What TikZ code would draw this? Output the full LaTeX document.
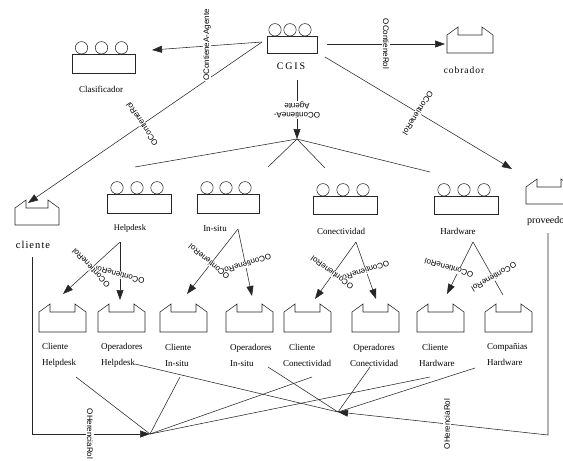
\documentclass[tikz,border=0pt]{standalone}
\usepackage{fontspec}
\setmainfont{Liberation Serif}
\newfontfamily\lblsans{Liberation Sans}
\newfontfamily\wideserif[LetterSpace=10]{Liberation Serif}
\newfontfamily\capsserif[LetterSpace=18]{Liberation Serif}
\usetikzlibrary{arrows.meta,calc}

\tikzset{
  shapeline/.style={line width=0.55pt, draw=black!85},
  conn/.style={line width=0.55pt, draw=black!85},
  arr/.style={conn, -{Triangle[length=10pt,width=7pt]}},
  tag/.style={font=\lblsans\fontsize{8}{9}\selectfont, fill=white, inner sep=0.6pt},
  lbl/.style={font=\fontsize{9}{16}\selectfont, inner sep=0pt},
  % agent: rectangle with three circles on top (origin = top centre)
  pics/agent/.style n args={3}{code={
    \draw[shapeline] (-#1/2,0) rectangle (#1/2,#2);
    \foreach \k in {-1,0,1} \draw[shapeline] (\k*#3-2,-6.2) circle[radius=6.2];
  }},
  % role: box with two ears on top (origin = bottom left)
  pics/rolebox/.style n args={2}{code={
    \draw[shapeline] (0,0) -- (0,-#2) -- (11,-#2-8) -- (11,-#2) -- (#1-11,-#2)
      -- (#1-11,-#2-8) -- (#1,-#2) -- (#1,0) -- cycle;
  }},
}

\begin{document}
\begin{tikzpicture}[x=1pt,y=-1pt]
\useasboundingbox (0,0) rectangle (563,461);
\clip (0,0) rectangle (563,461);

% ---------- agents ----------
\pic at (103.5,54) {agent={63}{19}{20}};
\node[lbl, font=\fontsize{9}{10}\selectfont] (nClas) at (101,89) {Clasificador};
\pic at (292,36) {agent={50}{17}{15}};
\node[lbl, font=\capsserif\fontsize{10}{11}\selectfont] (nCgis) at (291,66) {CGIS};
\pic at (139,194) {agent={64}{19}{20}};
\node[lbl, font=\fontsize{8.5}{10}\selectfont] (nHd) at (130,228) {Helpdesk};
\pic at (228,194) {agent={62}{19}{19}};
\node[lbl, font=\fontsize{9}{10}\selectfont] (nIs) at (215,229) {In-situ};
\pic at (345,196) {agent={64}{18}{20}};
\node[lbl, font=\fontsize{9}{10}\selectfont] (nCn) at (341,231) {Conectividad};
\pic at (466,196) {agent={64}{18}{20}};
\node[lbl, font=\fontsize{9}{10}\selectfont] (nHw) at (458,231) {Hardware};

% ---------- roles ----------
\pic at (447,53) {rolebox={46}{18}};
\node[lbl, font=\wideserif\fontsize{9.5}{11}\selectfont] (nCob) at (464,70) {cobrador};
\pic at (15,225) {rolebox={44}{17}};
\node[lbl, font=\wideserif\fontsize{10.5}{12}\selectfont] (nCli) at (33,245) {cliente};
\pic at (526,204) {rolebox={46}{17}};
\node[lbl, anchor=west, font=\fontsize{10}{11}\selectfont] (nProv) at (527,221) {proveedor};

\pic at (39,332)  {rolebox={47}{20}};
\pic at (98,332)  {rolebox={47}{20}};
\pic at (160,332) {rolebox={47}{20}};
\pic at (226,332) {rolebox={47}{20}};
\pic at (284,332) {rolebox={47}{20}};
\pic at (352,332) {rolebox={47}{20}};
\pic at (417,332) {rolebox={47}{20}};
\pic at (485,332) {rolebox={47}{20}};

\node[lbl, anchor=west, align=left] (lCH) at (42,355) {Cliente\\Helpdesk};
\node[lbl, anchor=west, align=left] (lOH) at (101,355) {Operadores\\Helpdesk};
\node[lbl, anchor=west, align=left] (lCI) at (165,355) {Cliente\\In-situ};
\node[lbl, anchor=west, align=left] (lOI) at (230,355) {Operadores\\In-situ};
\node[lbl, anchor=west, align=left] (lCC) at (283,355) {\hspace{6pt}Cliente\\Conectividad};
\node[lbl, anchor=west, align=center] (lOC) at (350,355) {Operadores\\Conectividad};
\node[lbl, anchor=west, align=left] (lCW) at (419,355) {\hspace{3pt}Cliente\\Hardware};
\node[lbl, anchor=west, align=left] (lPW) at (487,355) {Compañias\\Hardware};

% ---------- connector end points ----------
\coordinate (cgisW) at (262,42);
\coordinate (clasTip) at (152,50);
\coordinate (cliTip) at (28,203);
\coordinate (cgisE) at (327,44);
\coordinate (cobTip) at (445,44);
\coordinate (cgisSE) at (325,57);
\coordinate (provTip) at (512,169);
\coordinate (cgisS) at (297,80);
\coordinate (hub) at (297,139);
\coordinate (fanA) at (135,167);
\coordinate (fanB) at (268,167);
\coordinate (fanC) at (325,168);
\coordinate (fanD) at (430,172);

\coordinate (hdA) at (120,242);
\coordinate (hdL) at (63,294);
\coordinate (hdR) at (120,300);
\coordinate (isA) at (238,229);
\coordinate (isL) at (187,294);
\coordinate (isR) at (252,296);
\coordinate (cnA) at (356,242);
\coordinate (cnL) at (315,299);
\coordinate (cnR) at (376,299);
\coordinate (hwA) at (473,242);
\coordinate (hwL) at (447,294);
\coordinate (hwR) at (503,295);

\coordinate (cliDown) at (32,257);
\coordinate (jL) at (150,434);
\coordinate (provDown) at (548,233);
\coordinate (provCorner) at (548,435);
\coordinate (jR) at (338,412);
\coordinate (sCH) at (76,377);
\coordinate (sCI) at (180,377);
\coordinate (sCC) at (312,377);
\coordinate (sCW) at (430,377);
\coordinate (sOH) at (135,364);
\coordinate (sOI) at (268,367);
\coordinate (sOC) at (370,367);
\coordinate (sPW) at (475,368);

% ---------- connectors ----------
\draw[arr] (cgisW) -- (clasTip);
\draw[arr] (cgisW) -- (cliTip);
\draw[arr] (cgisE) -- (cobTip);
\draw[arr] (cgisSE) -- (provTip);
\draw[arr] (cgisS) -- (hub);
\foreach \f in {fanA,fanB,fanC,fanD} \draw[conn] (hub) -- (\f);

\draw[arr] (hdA) -- (hdL);
\draw[arr] (hdA) -- (hdR);
\draw[arr] (isA) -- (isL);
\draw[arr] (isA) -- (isR);
\draw[arr] (cnA) -- (cnL);
\draw[arr] (cnA) -- (cnR);
\draw[arr] (hwA) -- (hwL);
\draw[conn] (hwA) -- (hwR);

\draw[arr] (cliDown) |- (jL);
\foreach \s in {sCH,sCI,sCC,sCW} \draw[conn] (\s) -- (jL);
\draw[arr] (provDown) -- (provCorner) -- (jR);
\foreach \s in {sOH,sOI,sOC,sPW} \draw[conn] (\s) -- (jR);

% ---------- connector labels ----------
\node[tag, rotate=90] (tClas) at (207,45) {OContieneA-Agente};
\node[tag, rotate=124] (tCli) at (142,124) {OContieneRol};
\node[tag, rotate=-90] (tCob) at (386,44) {OContieneRol};
\node[tag, rotate=-122] (tProv) at (418,113) {OContieneRol};
\node[tag, rotate=180, align=center] (tHub) at (297,110) {OContieneA-\\Agente};

\node[tag, rotate=165] (tHdR) at (120,275) {OContieneRol};
\node[tag, rotate=134] (tHdL) at (91,268) {OContieneRol};
\node[tag, rotate=197] (tIsR) at (247,264) {OContieneRol};
\node[tag, rotate=140] (tIsL) at (209,262) {OContieneRol};
\node[tag, rotate=198] (tCnR) at (365,271) {OContieneRol};
\node[tag, rotate=144] (tCnL) at (332,273) {OContieneRol};
\node[tag, rotate=210] (tHwR) at (494,277) {OContieneRol};
\node[tag, rotate=164] (tHwL) at (449,268) {OContieneRol};

\node[tag, rotate=-90] (tHerL) at (90,434) {OHerenciaRol};
\node[tag, rotate=90] (tHerR) at (447,424) {OHerenciaRol};
\end{tikzpicture}
\end{document}
